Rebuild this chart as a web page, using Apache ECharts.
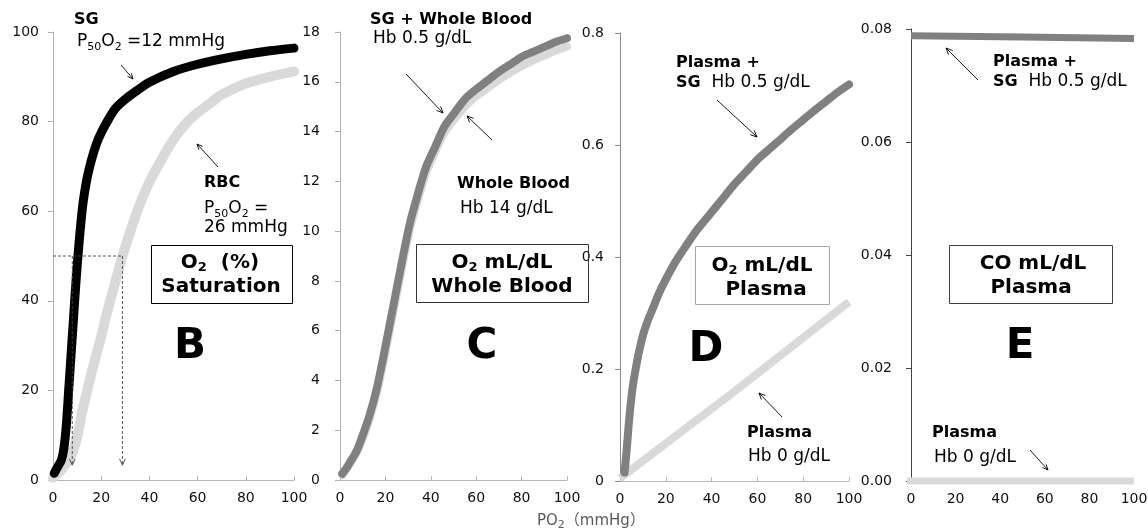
<!DOCTYPE html>
<html><head><meta charset="utf-8">
<script src="https://cdn.jsdelivr.net/npm/echarts@6/dist/echarts.min.js"></script>
<style>html,body{margin:0;padding:0;background:#fff}#c{width:1148px;height:531px}</style>
</head><body><div id="c"></div>
<script>
// ---------- DATA ----------
// Panel B: O2 saturation (%)
const sgPO2  = [0.5, 2, 3.5, 4.5, 5.5, 6.5, 7.5, 8.5, 9.5, 10.5, 11.5, 12.5, 14, 16, 18, 20, 23, 26, 30, 35, 40, 50, 60, 70, 80, 90, 100];
const sgSat  = [1.5, 3, 4.5, 7, 12, 20, 28, 36, 44, 51, 57, 62, 67, 71.5, 75, 77.5, 80.5, 83, 85, 87, 88.8, 91.2, 92.8, 94, 95, 95.8, 96.4];
const rbcPO2 = [0, 3, 6, 8, 10, 12, 14, 16, 18, 20, 22, 24, 26, 28, 30, 33, 36, 40, 45, 50, 55, 60, 65, 70, 80, 90, 100];
const rbcSat = [0.5, 2, 4, 6, 9.5, 15, 19.5, 24, 28, 32, 36.5, 40.5, 44.5, 48.5, 52, 57, 61.5, 66.5, 71.5, 76, 79.5, 82, 84, 86, 88.5, 90, 91.2];
const p50MarkPO2 = [8, 28.8];   // dashed P50 read-off lines
const p50Level = 50;
const p50ArrowTip = 3.3;

// Panel C: O2 mL/dL whole blood
const cPO2      = [1, 3, 5, 7.5, 10, 13, 16, 19, 22, 25, 28, 31, 34, 38, 42, 46, 50, 55, 60, 65, 70, 75, 80, 85, 90, 95, 100];
const sgWholeO2 = [0.25, 0.5, 0.8, 1.2, 1.8, 2.6, 3.6, 4.9, 6.3, 7.7, 9.1, 10.4, 11.4, 12.6, 13.4, 14.2, 14.7, 15.3, 15.7, 16.05, 16.4, 16.7, 17.0, 17.2, 17.4, 17.6, 17.75];
const wholeO2   = [0.2, 0.45, 0.75, 1.12, 1.65, 2.45, 3.4, 4.65, 6.05, 7.45, 8.85, 10.15, 11.15, 12.35, 13.2, 13.95, 14.45, 15.0, 15.42, 15.75, 16.07, 16.37, 16.63, 16.85, 17.05, 17.25, 17.42];

// Panel D: O2 mL/dL plasma
const dPO2       = [2, 3, 4, 5, 6, 8, 10, 12, 14, 17, 20, 24, 28, 33, 38, 44, 50, 55, 60, 65, 70, 75, 80, 85, 90, 95, 100];
const plasmaSGO2 = [0.015, 0.06, 0.11, 0.15, 0.18, 0.225, 0.26, 0.285, 0.305, 0.335, 0.36, 0.39, 0.415, 0.445, 0.47, 0.5, 0.53, 0.552, 0.574, 0.592, 0.61, 0.628, 0.645, 0.662, 0.678, 0.694, 0.708];
const dPlasmaPO2 = [0, 50, 100];
const plasmaO2   = [0.005, 0.16, 0.32];

// Panel E: CO mL/dL plasma
const ePO2SG     = [0, 50, 100];
const plasmaSGCO = [0.0788, 0.0786, 0.0783];
const ePO2Plasma = [-5, 100];
const plasmaCO   = [0, 0];

// axis tick settings
const xTickStep = 20;
const yRanges = [
  {min: 0, max: 100, step: 20},
  {min: 0, max: 18, step: 2},
  {min: 0, max: 0.8, step: 0.2},
  {min: 0, max: 0.08, step: 0.02}
];

// ---------- CHART ----------
const FONT = 'DejaVu Sans';
const chart = echarts.init(document.getElementById('c'), null, {renderer: 'canvas'});

const grids = [
  {left: 53,  top: 32, width: 241, height: 448},
  {left: 340, top: 32, width: 227, height: 448},
  {left: 620, top: 33, width: 229, height: 448},
  {left: 911, top: 29, width: 223, height: 452}
].map(g => Object.assign({outerBoundsMode: 'none', containLabel: false}, g));

const yAxisColors = ['#b0b0b0', '#b0b0b0', '#888888', '#444444'];
const yMargins = [14, 20, 16, 19];
const yFormat = [v => String(v), v => String(v), v => String(+v.toFixed(1)), v => v.toFixed(2)];

const xAxes = [0, 1, 2, 3].map(i => ({
  type: 'value', gridIndex: i, min: 0, max: 100, interval: xTickStep,
  axisLine: {show: i !== 3, onZero: false, lineStyle: {color: '#b8b8b8', width: 1}},
  axisTick: {show: i !== 3, inside: true, length: 4, lineStyle: {color: '#b8b8b8'}},
  axisLabel: {color: '#111', fontSize: 14, fontFamily: FONT, margin: 11},
  splitLine: {show: false}
}));
const yAxes = [0, 1, 2, 3].map(i => ({
  type: 'value', gridIndex: i, min: yRanges[i].min, max: yRanges[i].max, interval: yRanges[i].step,
  axisLine: {show: true, onZero: false, lineStyle: {color: yAxisColors[i], width: 1}},
  axisTick: {show: true, inside: false, length: 5, lineStyle: {color: yAxisColors[i]}},
  axisLabel: {color: '#111', fontSize: 14, fontFamily: FONT, margin: yMargins[i], formatter: yFormat[i]},
  splitLine: {show: false}
}));

function pairs(xs, ys) { return xs.map((x, i) => [x, ys[i]]); }
function lineSeries(name, xs, ys, idx, color, width, z, extra) {
  return Object.assign({
    name, type: 'line', xAxisIndex: idx, yAxisIndex: idx, data: pairs(xs, ys),
    showSymbol: false, symbol: 'none', smooth: 0.3,
    lineStyle: {color, width, cap: 'round', join: 'round'}, z, silent: true, animation: false
  }, extra || {});
}

const series = [
  lineSeries('RBC', rbcPO2, rbcSat, 0, '#d9d9d9', 10, 2),
  lineSeries('SG', sgPO2, sgSat, 0, '#000000', 9, 3),
  lineSeries('Whole Blood', cPO2, wholeO2, 1, '#d9d9d9', 8, 2),
  lineSeries('SG + Whole Blood', cPO2, sgWholeO2, 1, '#808080', 8, 3),
  lineSeries('Plasma', dPlasmaPO2, plasmaO2, 2, '#d9d9d9', 8, 2, {smooth: false, lineStyle: {color: '#d9d9d9', width: 8, cap: 'butt'}}),
  lineSeries('Plasma + SG', dPO2, plasmaSGO2, 2, '#808080', 8, 3),
  lineSeries('Plasma CO', ePO2Plasma, plasmaCO, 3, '#d9d9d9', 7, 2, {smooth: false, clip: false, lineStyle: {color: '#d9d9d9', width: 7, cap: 'butt'}}),
  lineSeries('Plasma + SG CO', ePO2SG, plasmaSGCO, 3, '#808080', 7, 3, {smooth: false, lineStyle: {color: '#808080', width: 7, cap: 'butt'}})
];

chart.setOption({
  animation: false,
  backgroundColor: '#ffffff',
  grid: grids, xAxis: xAxes, yAxis: yAxes, series
});

// ---------- ANNOTATIONS ----------
const G = [];
const sub = (size, w, drop) => ({fontFamily: FONT, fontSize: size, fontWeight: w || 'normal', fill: '#000', padding: [drop, 0, 0, 0]});
function txt(x, y, text, size, bold, align, rich, color) {
  const st = {
    text, x: 0, y: 0, fill: color || '#000', fontFamily: FONT, fontSize: size,
    fontWeight: bold ? 'bold' : 'normal', align: align || 'left', verticalAlign: 'middle',
    textAlign: align || 'left', textVerticalAlign: 'middle'
  };
  if (rich) st.rich = rich;
  G.push({type: 'text', x, y, z: 20, silent: true, style: st});
}
function arrow(x1, y1, x2, y2, opt) {
  opt = opt || {};
  const stroke = opt.color || '#000', lw = opt.width || 0.9, L = opt.head || 7, a = 0.42;
  const ang = Math.atan2(y2 - y1, x2 - x1);
  const p1 = [x2 - L * Math.cos(ang - a), y2 - L * Math.sin(ang - a)];
  const p2 = [x2 - L * Math.cos(ang + a), y2 - L * Math.sin(ang + a)];
  G.push({type: 'line', z: 20, silent: true, shape: {x1, y1, x2, y2}, style: {stroke, lineWidth: lw, lineDash: opt.dash || null}});
  G.push({type: 'polyline', z: 20, silent: true, shape: {points: [p1, [x2, y2], p2]}, style: {stroke, lineWidth: lw, fill: null}});
}
function box(x, y, w, h, stroke) {
  G.push({type: 'rect', z: 15, silent: true, shape: {x: x + 0.5, y: y + 0.5, width: w, height: h}, style: {fill: null, stroke, lineWidth: 1}});
}
const richN = {
  s: sub(11, 'normal', 10),
  n: {fontFamily: FONT, fontSize: 17, fill: '#000'}
};
const richBox = {
  s: sub(13, 'bold', 10),
  t: {fontFamily: FONT, fontSize: 20, fontWeight: 'bold', fill: '#000'}
};
const richSG = {
  b: {fontFamily: FONT, fontSize: 16, fontWeight: 'bold', fill: '#000'},
  n: {fontFamily: FONT, fontSize: 17, fill: '#000'}
};

// Panel B
txt(74, 20, 'SG', 16, true);
txt(77, 42, '{n|P}{s|50}{n|O}{s|2}{n| =12 mmHg}', 17, false, 'left', richN);
arrow(121, 65, 133, 79, {head: 6});
txt(204, 183, 'RBC', 16, true);
txt(204, 209, '{n|P}{s|50}{n|O}{s|2}{n| =}', 17, false, 'left', richN);
txt(204, 228, '26 mmHg', 17);
arrow(218, 167, 197, 144, {head: 6});
box(151, 245, 141, 58, '#000');
txt(220, 263, '{t|O}{s|2}{t|  (%)}', 20, true, 'center', richBox);
txt(221, 287, 'Saturation', 20, true, 'center');
txt(190, 347, 'B', 42, true, 'center');

// Panel C
txt(370, 20, 'SG + Whole Blood', 16, true);
txt(373, 39, 'Hb 0.5 g/dL', 17);
arrow(406, 74, 443, 113);
arrow(492, 140, 467, 116);
txt(457, 184, 'Whole Blood', 16, true);
txt(460, 209, 'Hb 14 g/dL', 17);
box(416, 244, 172, 58, '#333333');
txt(502, 263, '{t|O}{s|2}{t| mL/dL}', 20, true, 'center', richBox);
txt(502, 287, 'Whole Blood', 20, true, 'center');
txt(482, 347, 'C', 42, true, 'center');

// Panel D
txt(676, 63, 'Plasma +', 16, true);
txt(676, 83, '{b|SG}{n|  Hb 0.5 g/dL}', 17, false, 'left', richSG);
arrow(717, 100, 757, 137);
box(695, 246, 134, 58, '#a6a6a6');
txt(762, 266, '{t|O}{s|2}{t| mL/dL}', 20, true, 'center', richBox);
txt(766, 290, 'Plasma', 20, true, 'center');
txt(706, 350, 'D', 42, true, 'center');
txt(747, 433, 'Plasma', 16, true);
txt(748, 457, 'Hb 0 g/dL', 17);
arrow(782, 417, 759, 393);

// Panel E
txt(993, 62, 'Plasma +', 16, true);
txt(993, 82, '{b|SG}{n|  Hb 0.5 g/dL}', 17, false, 'left', richSG);
arrow(978, 80, 946, 48);
box(949, 245, 163, 58, '#404040');
txt(1033, 264, 'CO mL/dL', 20, true, 'center');
txt(1031, 288, 'Plasma', 20, true, 'center');
txt(1020, 347, 'E', 42, true, 'center');
txt(932, 433, 'Plasma', 16, true);
txt(934, 458, 'Hb 0 g/dL', 17);
arrow(1030, 450, 1048, 470, {head: 6});

// Shared x-axis title
txt(537, 521, '{n|PO}{s|2}{n|（mmHg）}', 15, false, 'left', {
  n: {fontFamily: FONT + ', Noto Sans CJK JP', fontSize: 15, fill: '#595959'},
  s: {fontFamily: FONT, fontSize: 11, fill: '#595959', padding: [8, 0, 0, 0]}
}, '#595959');

// P50 read-off dashed lines (data coordinates of panel B)
const toPx = (x, y) => chart.convertToPixel({xAxisIndex: 0, yAxisIndex: 0}, [x, y]);
const h0 = toPx(0, p50Level), h1 = toPx(p50MarkPO2[1], p50Level);
G.push({type: 'line', z: 20, silent: true, shape: {x1: h0[0], y1: h0[1], x2: h1[0], y2: h1[1]}, style: {stroke: '#444', lineWidth: 0.9, lineDash: [3, 2]}});
p50MarkPO2.forEach(px => {
  const a = toPx(px, p50Level), b = toPx(px, p50ArrowTip);
  arrow(a[0], a[1], b[0], b[1], {color: '#444', dash: [3, 2], head: 7});
});

chart.setOption({graphic: G});
</script></body></html>
